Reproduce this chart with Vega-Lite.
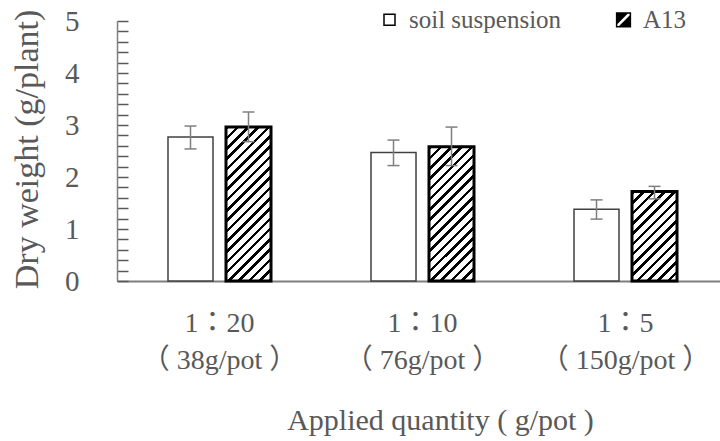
{
  "$schema": "https://vega.github.io/schema/vega-lite/v6.json",
  "width": 603,
  "height": 260,
  "autosize": "none",
  "padding": {"left": 117, "top": 21, "right": 0, "bottom": 160},
  "background": "white",
  "config": {
    "view": {"stroke": null},
    "font": "Liberation Serif",
    "legend": {
      "orient": "none",
      "legendX": 260,
      "legendY": -14,
      "direction": "horizontal",
      "columns": 2,
      "padding": 0,
      "symbolSize": 121,
      "symbolStrokeColor": "black",
      "symbolStrokeWidth": 1.5,
      "labelFont": "Liberation Serif",
      "labelFontSize": 25,
      "labelColor": "#595959",
      "labelOffset": 7,
      "labelLimit": 400,
      "columnPadding": 49
    }
  },
  "data": {
    "values": [
      {"group": "1：20|（ 38g/pot ）", "series": "soil suspension", "mean": 2.77, "lo": 2.54, "hi": 2.98},
      {"group": "1：20|（ 38g/pot ）", "series": "A13", "mean": 2.96, "lo": 2.68, "hi": 3.25},
      {"group": "1：10|（ 76g/pot ）", "series": "soil suspension", "mean": 2.47, "lo": 2.22, "hi": 2.71},
      {"group": "1：10|（ 76g/pot ）", "series": "A13", "mean": 2.58, "lo": 2.22, "hi": 2.96},
      {"group": "1：5|（ 150g/pot ）", "series": "soil suspension", "mean": 1.38, "lo": 1.19, "hi": 1.56},
      {"group": "1：5|（ 150g/pot ）", "series": "A13", "mean": 1.72, "lo": 1.58, "hi": 1.82}
    ]
  },
  "encoding": {
    "x": {
      "field": "group",
      "type": "nominal",
      "sort": null,
      "scale": {"paddingInner": 0.4926, "paddingOuter": 0.2315, "align": 0.5426},
      "axis": {
        "title": "Applied quantity ( g/pot )",
        "labelExpr": "split(datum.label, '|')",
        "labelAngle": 0,
        "labelFont": "Liberation Serif, Noto Sans CJK JP",
        "labelFontSize": 28,
        "labelColor": "#595959",
        "labelLineHeight": 37,
        "labelBaseline": "alphabetic",
        "labelPadding": 50,
        "ticks": false,
        "domainColor": "#7f7f7f",
        "domainWidth": 2,
        "titleFont": "Liberation Serif",
        "titleFontSize": 30,
        "titleFontWeight": "normal",
        "titleColor": "#595959",
        "titleBaseline": "alphabetic",
        "titleAlign": "center",
        "titleX": 323,
        "titleY": 148
      }
    },
    "xOffset": {
      "field": "series",
      "type": "nominal",
      "sort": null,
      "scale": {"domain": ["soil suspension", "A13"], "paddingInner": 0.224, "paddingOuter": 0}
    }
  },
  "layer": [
    {
      "mark": {"type": "bar"},
      "encoding": {
        "y": {
          "field": "mean",
          "type": "quantitative",
          "title": "Dry weight (g/plant)",
          "scale": {"domain": [0, 5], "nice": false},
          "axis": {
            "values": [0, 0.2, 0.4, 0.6, 0.8, 1, 1.2, 1.4, 1.6, 1.8, 2, 2.2, 2.4, 2.6, 2.8, 3, 3.2, 3.4, 3.6, 3.8, 4, 4.2, 4.4, 4.6, 4.8, 5],
            "tickCount": 40,
            "format": ".0f",
            "labelExpr": "datum.value % 1 === 0 ? datum.label : ''",
            "labelFlush": false,
            "labelOverlap": false,
            "grid": false,
            "tickSize": -11,
            "tickColor": "#595959",
            "tickWidth": 1.5,
            "domainColor": "#7f7f7f",
            "domainWidth": 1.5,
            "labelPadding": 49,
            "labelFont": "Liberation Serif",
            "labelFontSize": 29,
            "labelColor": "#595959",
            "titleFont": "Liberation Serif",
            "titleFontSize": 34,
            "titleFontWeight": "normal",
            "titleColor": "#595959",
            "titleBaseline": "middle",
            "titleX": -90,
            "titleY": 128
          }
        },
        "fill": {
          "field": "series",
          "type": "nominal",
          "sort": null,
          "scale": {"domain": ["soil suspension", "A13"], "range": ["white", "black"]},
          "legend": {"title": null},
          "condition": [
            {
              "test": "datum.series === 'A13' && datum.mean === 2.96",
              "value": {
                "gradient": "linear", "x1": 0, "y1": 0, "x2": 0.3481, "y2": 1.1906,
                "stops": [
                  {"offset": 0, "color": "black"}, {"offset": 0.0181, "color": "black"}, {"offset": 0.0181, "color": "white"}, {"offset": 0.0518, "color": "white"},
                  {"offset": 0.0518, "color": "black"}, {"offset": 0.0699, "color": "black"}, {"offset": 0.0699, "color": "white"}, {"offset": 0.1036, "color": "white"},
                  {"offset": 0.1036, "color": "black"}, {"offset": 0.1217, "color": "black"}, {"offset": 0.1217, "color": "white"}, {"offset": 0.1554, "color": "white"},
                  {"offset": 0.1554, "color": "black"}, {"offset": 0.1735, "color": "black"}, {"offset": 0.1735, "color": "white"}, {"offset": 0.2072, "color": "white"},
                  {"offset": 0.2072, "color": "black"}, {"offset": 0.2253, "color": "black"}, {"offset": 0.2253, "color": "white"}, {"offset": 0.259, "color": "white"},
                  {"offset": 0.259, "color": "black"}, {"offset": 0.2771, "color": "black"}, {"offset": 0.2771, "color": "white"}, {"offset": 0.3107, "color": "white"},
                  {"offset": 0.3107, "color": "black"}, {"offset": 0.3288, "color": "black"}, {"offset": 0.3288, "color": "white"}, {"offset": 0.3625, "color": "white"},
                  {"offset": 0.3625, "color": "black"}, {"offset": 0.3806, "color": "black"}, {"offset": 0.3806, "color": "white"}, {"offset": 0.4143, "color": "white"},
                  {"offset": 0.4143, "color": "black"}, {"offset": 0.4324, "color": "black"}, {"offset": 0.4324, "color": "white"}, {"offset": 0.4661, "color": "white"},
                  {"offset": 0.4661, "color": "black"}, {"offset": 0.4842, "color": "black"}, {"offset": 0.4842, "color": "white"}, {"offset": 0.5179, "color": "white"},
                  {"offset": 0.5179, "color": "black"}, {"offset": 0.536, "color": "black"}, {"offset": 0.536, "color": "white"}, {"offset": 0.5697, "color": "white"},
                  {"offset": 0.5697, "color": "black"}, {"offset": 0.5878, "color": "black"}, {"offset": 0.5878, "color": "white"}, {"offset": 0.6215, "color": "white"},
                  {"offset": 0.6215, "color": "black"}, {"offset": 0.6396, "color": "black"}, {"offset": 0.6396, "color": "white"}, {"offset": 0.6733, "color": "white"},
                  {"offset": 0.6733, "color": "black"}, {"offset": 0.6914, "color": "black"}, {"offset": 0.6914, "color": "white"}, {"offset": 0.7251, "color": "white"},
                  {"offset": 0.7251, "color": "black"}, {"offset": 0.7432, "color": "black"}, {"offset": 0.7432, "color": "white"}, {"offset": 0.7769, "color": "white"},
                  {"offset": 0.7769, "color": "black"}, {"offset": 0.795, "color": "black"}, {"offset": 0.795, "color": "white"}, {"offset": 0.8286, "color": "white"},
                  {"offset": 0.8286, "color": "black"}, {"offset": 0.8467, "color": "black"}, {"offset": 0.8467, "color": "white"}, {"offset": 0.8804, "color": "white"},
                  {"offset": 0.8804, "color": "black"}, {"offset": 0.8985, "color": "black"}, {"offset": 0.8985, "color": "white"}, {"offset": 0.9322, "color": "white"},
                  {"offset": 0.9322, "color": "black"}, {"offset": 0.9503, "color": "black"}, {"offset": 0.9503, "color": "white"}, {"offset": 0.984, "color": "white"},
                  {"offset": 0.984, "color": "black"}, {"offset": 1, "color": "black"}
                ]
              }
            },
            {
              "test": "datum.series === 'A13' && datum.mean === 2.58",
              "value": {
                "gradient": "linear", "x1": 0, "y1": 0, "x2": 0.4025, "y2": 1.2003,
                "stops": [
                  {"offset": 0, "color": "black"}, {"offset": 0.0201, "color": "black"}, {"offset": 0.0201, "color": "white"}, {"offset": 0.0575, "color": "white"},
                  {"offset": 0.0575, "color": "black"}, {"offset": 0.0776, "color": "black"}, {"offset": 0.0776, "color": "white"}, {"offset": 0.1149, "color": "white"},
                  {"offset": 0.1149, "color": "black"}, {"offset": 0.135, "color": "black"}, {"offset": 0.135, "color": "white"}, {"offset": 0.1724, "color": "white"},
                  {"offset": 0.1724, "color": "black"}, {"offset": 0.1925, "color": "black"}, {"offset": 0.1925, "color": "white"}, {"offset": 0.2299, "color": "white"},
                  {"offset": 0.2299, "color": "black"}, {"offset": 0.25, "color": "black"}, {"offset": 0.25, "color": "white"}, {"offset": 0.2874, "color": "white"},
                  {"offset": 0.2874, "color": "black"}, {"offset": 0.3075, "color": "black"}, {"offset": 0.3075, "color": "white"}, {"offset": 0.3448, "color": "white"},
                  {"offset": 0.3448, "color": "black"}, {"offset": 0.3649, "color": "black"}, {"offset": 0.3649, "color": "white"}, {"offset": 0.4023, "color": "white"},
                  {"offset": 0.4023, "color": "black"}, {"offset": 0.4224, "color": "black"}, {"offset": 0.4224, "color": "white"}, {"offset": 0.4598, "color": "white"},
                  {"offset": 0.4598, "color": "black"}, {"offset": 0.4799, "color": "black"}, {"offset": 0.4799, "color": "white"}, {"offset": 0.5172, "color": "white"},
                  {"offset": 0.5172, "color": "black"}, {"offset": 0.5373, "color": "black"}, {"offset": 0.5373, "color": "white"}, {"offset": 0.5747, "color": "white"},
                  {"offset": 0.5747, "color": "black"}, {"offset": 0.5948, "color": "black"}, {"offset": 0.5948, "color": "white"}, {"offset": 0.6322, "color": "white"},
                  {"offset": 0.6322, "color": "black"}, {"offset": 0.6523, "color": "black"}, {"offset": 0.6523, "color": "white"}, {"offset": 0.6897, "color": "white"},
                  {"offset": 0.6897, "color": "black"}, {"offset": 0.7098, "color": "black"}, {"offset": 0.7098, "color": "white"}, {"offset": 0.7471, "color": "white"},
                  {"offset": 0.7471, "color": "black"}, {"offset": 0.7672, "color": "black"}, {"offset": 0.7672, "color": "white"}, {"offset": 0.8046, "color": "white"},
                  {"offset": 0.8046, "color": "black"}, {"offset": 0.8247, "color": "black"}, {"offset": 0.8247, "color": "white"}, {"offset": 0.8621, "color": "white"},
                  {"offset": 0.8621, "color": "black"}, {"offset": 0.8822, "color": "black"}, {"offset": 0.8822, "color": "white"}, {"offset": 0.9195, "color": "white"},
                  {"offset": 0.9195, "color": "black"}, {"offset": 0.9396, "color": "black"}, {"offset": 0.9396, "color": "white"}, {"offset": 0.977, "color": "white"},
                  {"offset": 0.977, "color": "black"}, {"offset": 0.9971, "color": "black"}, {"offset": 0.9971, "color": "white"}, {"offset": 1, "color": "white"}
                ]
              }
            },
            {
              "test": "datum.series === 'A13' && datum.mean === 1.72",
              "value": {
                "gradient": "linear", "x1": 0, "y1": 0, "x2": 0.6038, "y2": 1.1995,
                "stops": [
                  {"offset": 0, "color": "black"}, {"offset": 0.0268, "color": "black"}, {"offset": 0.0268, "color": "white"}, {"offset": 0.0766, "color": "white"},
                  {"offset": 0.0766, "color": "black"}, {"offset": 0.1035, "color": "black"}, {"offset": 0.1035, "color": "white"}, {"offset": 0.1533, "color": "white"},
                  {"offset": 0.1533, "color": "black"}, {"offset": 0.1801, "color": "black"}, {"offset": 0.1801, "color": "white"}, {"offset": 0.2299, "color": "white"},
                  {"offset": 0.2299, "color": "black"}, {"offset": 0.2567, "color": "black"}, {"offset": 0.2567, "color": "white"}, {"offset": 0.3065, "color": "white"},
                  {"offset": 0.3065, "color": "black"}, {"offset": 0.3333, "color": "black"}, {"offset": 0.3333, "color": "white"}, {"offset": 0.3831, "color": "white"},
                  {"offset": 0.3831, "color": "black"}, {"offset": 0.41, "color": "black"}, {"offset": 0.41, "color": "white"}, {"offset": 0.4598, "color": "white"},
                  {"offset": 0.4598, "color": "black"}, {"offset": 0.4866, "color": "black"}, {"offset": 0.4866, "color": "white"}, {"offset": 0.5364, "color": "white"},
                  {"offset": 0.5364, "color": "black"}, {"offset": 0.5632, "color": "black"}, {"offset": 0.5632, "color": "white"}, {"offset": 0.613, "color": "white"},
                  {"offset": 0.613, "color": "black"}, {"offset": 0.6398, "color": "black"}, {"offset": 0.6398, "color": "white"}, {"offset": 0.6897, "color": "white"},
                  {"offset": 0.6897, "color": "black"}, {"offset": 0.7165, "color": "black"}, {"offset": 0.7165, "color": "white"}, {"offset": 0.7663, "color": "white"},
                  {"offset": 0.7663, "color": "black"}, {"offset": 0.7931, "color": "black"}, {"offset": 0.7931, "color": "white"}, {"offset": 0.8429, "color": "white"},
                  {"offset": 0.8429, "color": "black"}, {"offset": 0.8697, "color": "black"}, {"offset": 0.8697, "color": "white"}, {"offset": 0.9195, "color": "white"},
                  {"offset": 0.9195, "color": "black"}, {"offset": 0.9464, "color": "black"}, {"offset": 0.9464, "color": "white"}, {"offset": 0.9962, "color": "white"},
                  {"offset": 0.9962, "color": "black"}, {"offset": 1, "color": "black"}
                ]
              }
            }
          ]
        },
        "stroke": {"condition": {"test": "datum.series === 'A13'", "value": "black"}, "value": "#404040"},
        "strokeWidth": {"condition": {"test": "datum.series === 'A13'", "value": 3}, "value": 1.5}
      }
    },
    {
      "transform": [{"filter": "false"}],
      "mark": {"type": "point", "filled": true, "opacity": 1},
      "encoding": {
        "y": {"field": "mean", "type": "quantitative", "title": "Dry weight (g/plant)"},
        "fill": {
          "field": "series",
          "type": "nominal",
          "sort": null,
          "scale": {"domain": ["soil suspension", "A13"], "range": ["white", "black"]},
          "legend": {"title": null}
        },
        "shape": {
          "field": "series",
          "type": "nominal",
          "sort": null,
          "scale": {
            "domain": ["soil suspension", "A13"],
            "range": [
              "M-1,-1H1V1H-1Z",
              "M-1.25,-1.25H1.25V1.25H-1.25Z M-1.25,1.25L-0.7,1.25L1.25,-0.7L1.25,-1.25L0.7,-1.25L-1.25,0.7Z"
            ]
          },
          "legend": {"title": null}
        }
      }
    },
    {
      "mark": {"type": "rule", "color": "#7f7f7f", "strokeWidth": 1.5},
      "encoding": {
        "y": {"field": "lo", "type": "quantitative", "title": "Dry weight (g/plant)"},
        "y2": {"field": "hi"}
      }
    },
    {
      "mark": {"type": "tick", "color": "#7f7f7f", "thickness": 1.5, "size": 12, "opacity": 1},
      "encoding": {
        "y": {"field": "lo", "type": "quantitative", "title": "Dry weight (g/plant)"}
      }
    },
    {
      "mark": {"type": "tick", "color": "#7f7f7f", "thickness": 1.5, "size": 12, "opacity": 1},
      "encoding": {
        "y": {"field": "hi", "type": "quantitative", "title": "Dry weight (g/plant)"}
      }
    }
  ]
}
